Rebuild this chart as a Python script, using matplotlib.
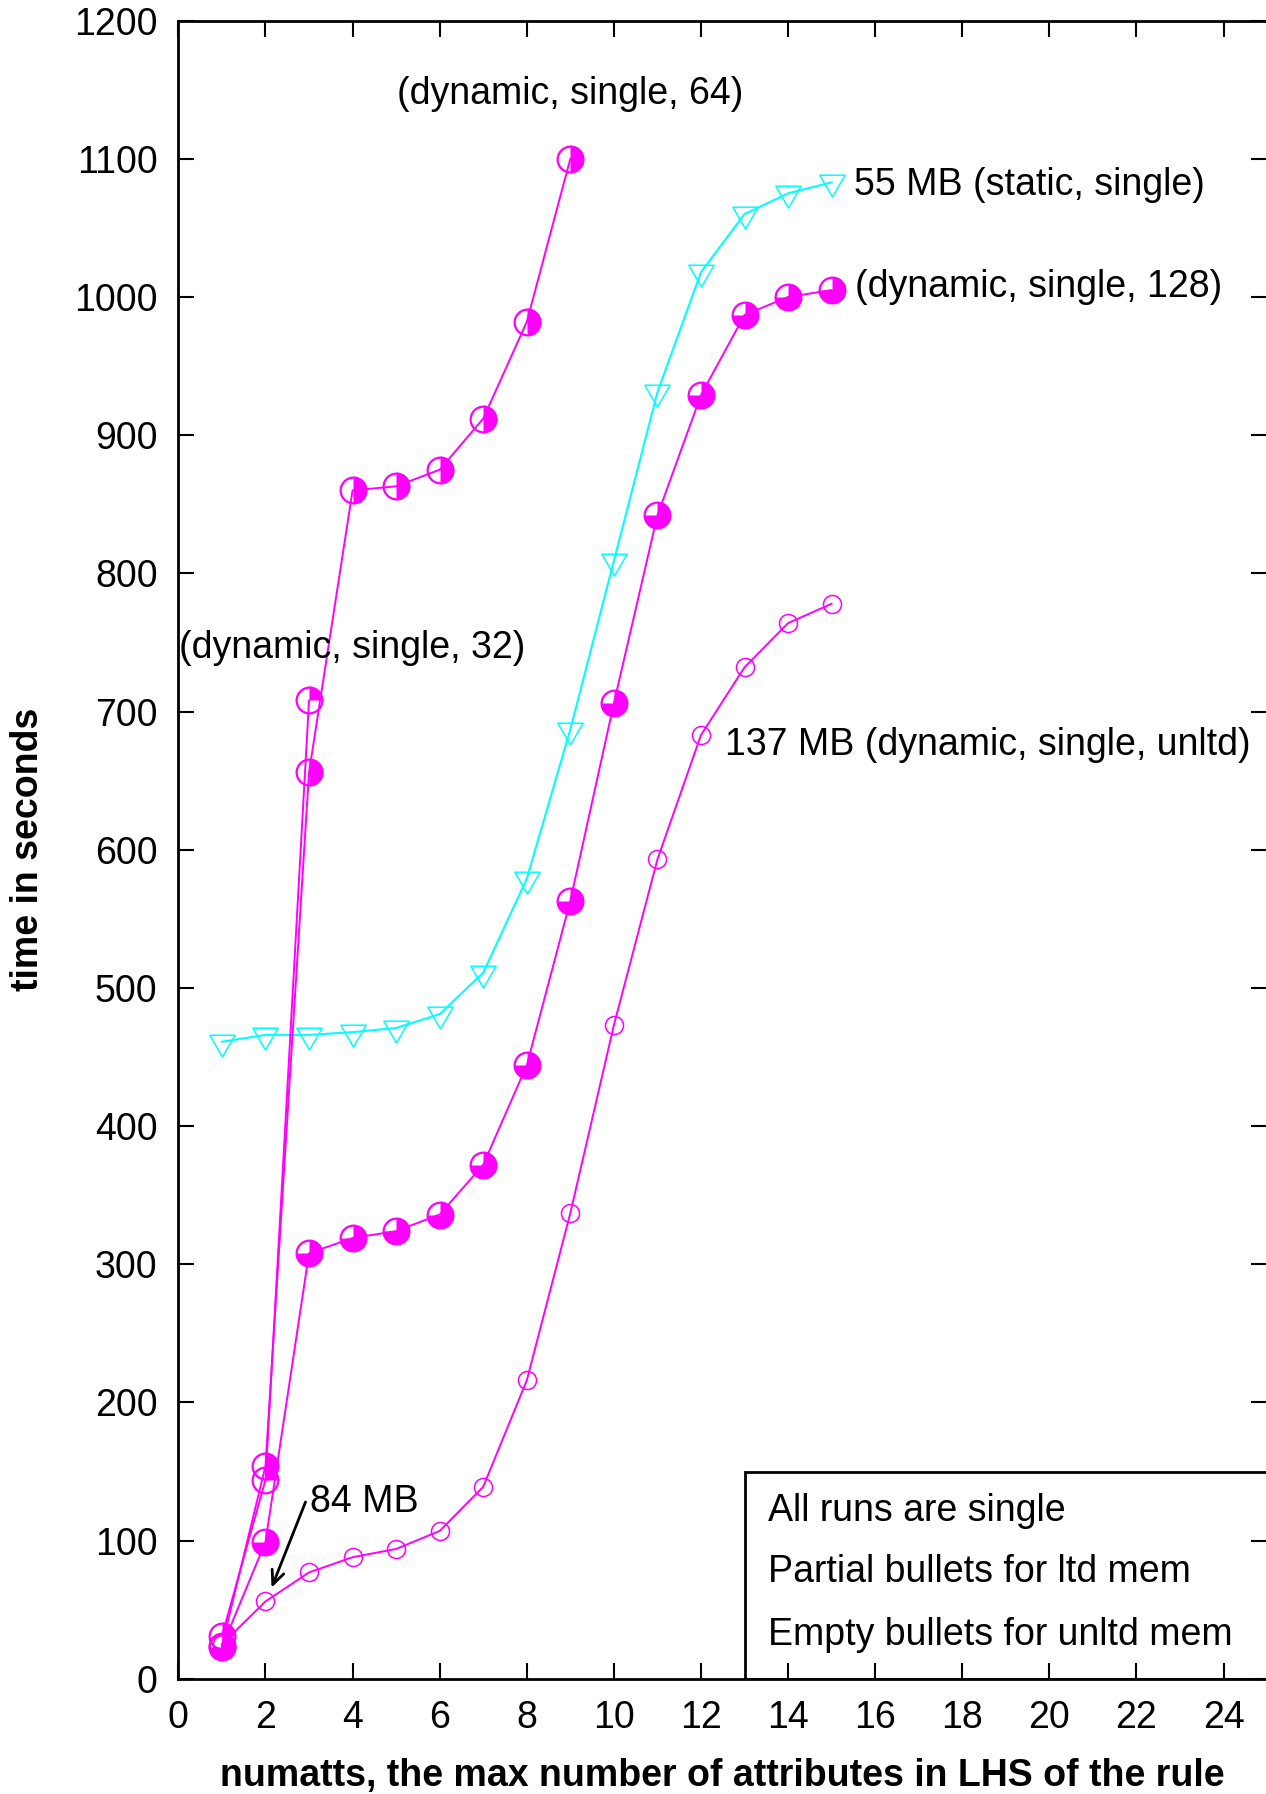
import numpy as np
import matplotlib
matplotlib.use("Agg")
import matplotlib.pyplot as plt
from matplotlib.path import Path
from matplotlib.patches import Rectangle

plt.rcParams['font.family'] = ['Liberation Sans', 'DejaVu Sans']

# data
x_static = [1, 2, 3, 4, 5, 6, 7, 8, 9, 10, 11, 12, 13, 14, 15]
t_static = [461, 466, 466, 468, 471, 481, 511, 579, 687, 809, 931, 1018, 1060, 1075, 1083]

x_d32 = [1, 2, 3]
t_d32 = [31, 144, 708]

x_d64 = [1, 2, 3, 4, 5, 6, 7, 8, 9]
t_d64 = [24, 154, 656, 860, 863, 875, 912, 982, 1100]

x_d128 = [1, 2, 3, 4, 5, 6, 7, 8, 9, 10, 11, 12, 13, 14, 15]
t_d128 = [23, 99, 308, 319, 324, 336, 372, 444, 563, 706, 842, 929, 987, 1000, 1005]

x_unl = [1, 2, 3, 4, 5, 6, 7, 8, 9, 10, 11, 12, 13, 14, 15]
t_unl = [25, 56, 77, 88, 94, 107, 139, 216, 337, 473, 593, 683, 732, 764, 778]

xticks = list(range(0, 25, 2))
yticks = list(range(0, 1201, 100))

MAG = '#ff00ff'
CYAN = '#00ffff'
FS = 27

fig = plt.figure(figsize=(12.66, 17.94), dpi=100)
ax = fig.add_axes([0.1409, 0.0642, 0.8600, 0.9243])

# triangle with its centroid at the data point
tri = Path([(-1, 0.577), (1, 0.577), (0, -1.155), (-1, 0.577)],
           [Path.MOVETO, Path.LINETO, Path.LINETO, Path.CLOSEPOLY])

ax.plot(x_static, t_static, color=CYAN, lw=1.5, marker=tri, ms=21,
        mfc='none', mec=CYAN, mew=1.1)

ax.plot(x_unl, t_unl, color=MAG, lw=1.4, marker='o', ms=13,
        mfc='none', mec=MAG, mew=1.1)

# partially filled bullets: outline + filled wedge
for xs, ys, (a1, a2) in [(x_d32, t_d32, (0, 90)),
                         (x_d64, t_d64, (-90, 90)),
                         (x_d128, t_d128, (-180, 90))]:
    ax.plot(xs, ys, color=MAG, lw=1.4, marker='o', ms=18.5,
            mfc='none', mec=MAG, mew=1.6)
    ax.plot(xs, ys, ls='none', marker=Path.wedge(a1, a2), ms=20,
            mfc=MAG, mec='none')

ax.text(9, 1147, '(dynamic, single, 64)', fontsize=FS, ha='center', va='center')
ax.text(4, 746, '(dynamic, single, 32)', fontsize=FS, ha='center', va='center')
ax.text(15.52, 1081, '55 MB (static, single)', fontsize=FS, ha='left', va='center')
ax.text(15.54, 1007, '(dynamic, single, 128)', fontsize=FS, ha='left', va='center')
ax.text(12.55, 676, '137 MB (dynamic, single, unltd)', fontsize=FS, ha='left', va='center')
ax.text(3.02, 128, '84 MB', fontsize=FS, ha='left', va='center')
ax.annotate('', xy=(2.14, 66), xytext=(2.92, 128),
            arrowprops=dict(arrowstyle='->,head_length=1.0,head_width=0.45',
                            color='black', lw=2, shrinkA=0, shrinkB=0))

# key box
ax.add_patch(Rectangle((13.02, 0), 13, 150, fill=False, ec='black', lw=2))
for yy, s in [(121.5, 'All runs are single'),
              (77, 'Partial bullets for ltd mem'),
              (32, 'Empty bullets for unltd mem')]:
    ax.text(13.55, yy, s, fontsize=FS, ha='left', va='center')

ax.set_xlim(0, 25)
ax.set_ylim(0, 1200)
ax.set_xticks(xticks)
ax.set_yticks(yticks)
ax.tick_params(direction='in', length=11.5, width=1.5, labelsize=FS,
               top=True, right=True, pad=15)
for sp in ax.spines.values():
    sp.set_linewidth(2)

ax.set_xlabel('numatts, the max number of attributes in LHS of the rule',
              fontsize=FS, fontweight='bold', labelpad=16)
ax.set_ylabel('time in seconds', fontsize=FS, fontweight='bold', labelpad=20)

fig.savefig('out.png', dpi=100)
